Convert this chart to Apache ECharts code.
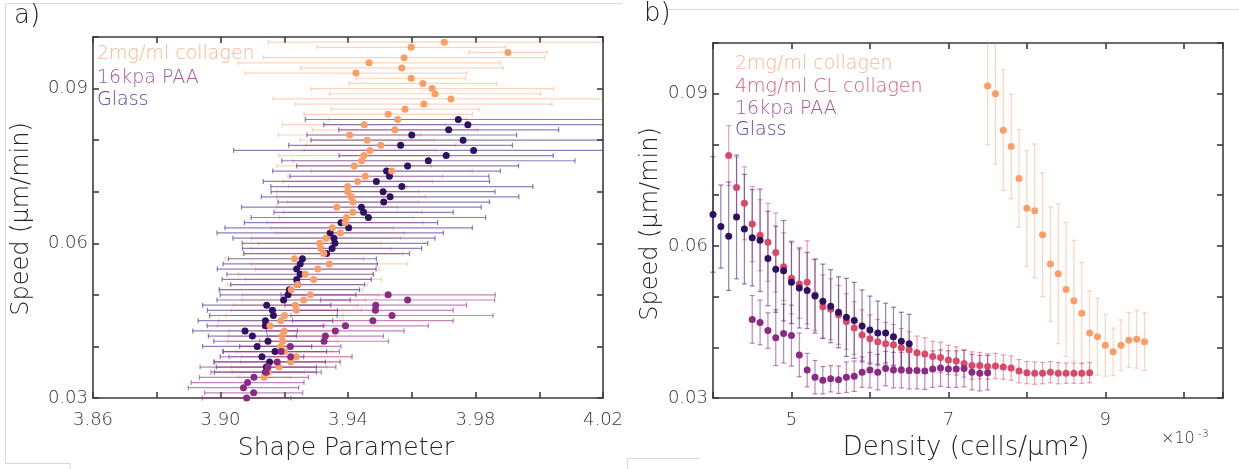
<!DOCTYPE html>
<html>
<head>
<meta charset="utf-8">
<script src="https://cdn.jsdelivr.net/npm/echarts@6/dist/echarts.min.js"></script>
<style>
  html, body { margin: 0; padding: 0; background: #ffffff; }
  #chart { width: 1239px; height: 469px; }
</style>
</head>
<body>
<div id="chart"></div>
<script>
// ---------- panel a: speed bins vs mean shape parameter (± std) ----------
const aCollagenSpeed = [
  0.099,0.098,0.097,0.096,0.095,0.094,0.093,0.092,0.091,0.090,
  0.089,0.088,0.087,0.086,0.085,0.084,0.083,0.082,0.081,0.080,
  0.079,0.078,0.077,0.076,0.075,0.074,0.073,0.072,0.071,0.070,
  0.069,0.068,0.067,0.066,0.065,0.064,0.063,0.062,0.061,0.060,
  0.059,0.058,0.057,0.056,0.055,0.054,0.053,0.052,0.051,0.050,
  0.049,0.048,0.047,0.046,0.045,0.044,0.043,0.042,0.041,0.040,
  0.039,0.038,0.037,0.036,0.035,0.034
];
const aCollagenShape = [
  3.9702,3.9598,3.9902,3.9576,3.9466,3.9569,3.9425,3.9598,3.9635,3.9664,
  3.9673,3.9723,3.9638,3.9579,3.9526,3.9556,3.9451,3.9547,3.9405,3.9460,
  3.9503,3.9469,3.9450,3.9443,3.9419,3.9537,3.9454,3.9430,3.9399,3.9399,
  3.9410,3.9416,3.9365,3.9415,3.9395,3.9391,3.9351,3.9376,3.9331,3.9311,
  3.9315,3.9324,3.9232,3.9341,3.9305,3.9266,3.9292,3.9242,3.9222,3.9282,
  3.9261,3.9235,3.9238,3.9201,3.9189,3.9155,3.9200,3.9193,3.9195,3.9189,
  3.9201,3.9238,3.9220,3.9184,3.9150,3.9137
];
const aCollagenErr = [
  0.0552,0.0296,0.0122,0.0441,0.0411,0.0317,0.0348,0.0171,0.0231,0.0381,
  0.0331,0.0558,0.0402,0.0232,0.0264,0.0216,0.0256,0.0259,0.0223,0.0210,
  0.0235,0.0207,0.0267,0.0216,0.0242,0.0253,0.0243,0.0235,0.0186,0.0223,
  0.0234,0.0206,0.0190,0.0218,0.0210,0.0245,0.0192,0.0201,0.0234,0.0193,
  0.0219,0.0248,0.0217,0.0245,0.0195,0.0210,0.0213,0.0220,0.0223,0.0213,
  0.0194,0.0195,0.0204,0.0184,0.0195,0.0165,0.0173,0.0169,0.0173,0.0129,
  0.0151,0.0172,0.0157,0.0150,0.0113,0.0082
];

const aGlassSpeed = [
  0.084,0.083,0.082,0.081,0.080,0.079,0.078,0.077,0.076,0.075,
  0.074,0.073,0.072,0.071,0.070,0.069,0.068,0.067,0.066,0.065,
  0.064,0.063,0.062,0.061,0.060,0.059,0.058,0.057,0.056,0.055,
  0.054,0.053,0.052,0.051,0.050,0.049,0.048,0.047,0.046,0.045,
  0.044,0.043,0.042,0.041,0.040,0.039,0.038,0.037,0.036,0.035
];
const aGlassShape = [
  3.9746,3.9776,3.9716,3.9600,3.9761,3.9565,3.9794,3.9708,3.9652,3.9587,
  3.9521,3.9530,3.9489,3.9569,3.9510,3.9532,3.9512,3.9442,3.9449,3.9464,
  3.9378,3.9402,3.9344,3.9356,3.9359,3.9350,3.9333,3.9257,3.9250,3.9239,
  3.9250,3.9239,3.9242,3.9216,3.9212,3.9198,3.9145,3.9163,3.9166,3.9141,
  3.9141,3.9077,3.9100,3.9149,3.9115,3.9171,3.9130,3.9154,3.9144,3.9141
];
const aGlassErr = [
  0.0480,0.0452,0.0345,0.0329,0.0477,0.0351,0.0753,0.0336,0.0460,0.0348,
  0.0357,0.0312,0.0355,0.0411,0.0351,0.0404,0.0332,0.0376,0.0281,0.0368,
  0.0303,0.0388,0.0355,0.0317,0.0291,0.0281,0.0260,0.0232,0.0242,0.0249,
  0.0230,0.0234,0.0210,0.0220,0.0213,0.0209,0.0201,0.0204,0.0200,0.0211,
  0.0183,0.0164,0.0138,0.0170,0.0171,0.0162,0.0131,0.0175,0.0157,0.0160
];

const aPaaSpeed = [
  0.050,0.049,0.048,0.047,0.046,0.045,0.044,0.043,0.042,0.041,
  0.040,0.039,0.038,0.037,0.036,0.035,0.034,0.033,0.032,0.031,0.030
];
const aPaaShape = [
  3.9526,3.9587,3.9487,3.9486,3.9538,3.9478,3.9392,3.9360,3.9329,3.9325,
  3.9219,3.9190,3.9220,3.9178,3.9149,3.9143,3.9105,3.9085,3.9072,3.9104,3.9082
];
const aPaaErr = [
  0.0336,0.0273,0.0285,0.0244,0.0317,0.0252,0.0260,0.0216,0.0182,0.0202,
  0.0159,0.0183,0.0193,0.0197,0.0213,0.0173,0.0171,0.0177,0.0173,0.0154,0.0139
];

// ---------- panel b: density bins (x10^-3 cells/um^2) vs mean speed (± std) ----------
const bCollagenDensity = [7.5,7.6,7.7,7.8,7.9,8.0,8.1,8.2,8.3,8.4,8.5,8.6,8.7,8.8,8.9,9.0,9.1,9.2,9.3,9.4,9.5];
const bCollagenSpeed = [
  0.0915,0.0900,0.0828,0.0796,0.0733,0.0674,0.0669,0.0622,0.0564,0.0545,
  0.0514,0.0492,0.0467,0.0428,0.0421,0.0404,0.0391,0.0404,0.0414,0.0416,0.0411
];
const bCollagenErr = [
  0.0116,0.0139,0.0119,0.0103,0.0096,0.0114,0.0132,0.0122,0.0113,0.0138,
  0.0132,0.0119,0.0100,0.0083,0.0076,0.0061,0.0047,0.0050,0.0054,0.0057,0.0057
];

const bClDensity = [
  4.2,4.3,4.4,4.5,4.6,4.7,4.8,4.9,5.0,5.1,
  5.2,5.3,5.4,5.5,5.6,5.7,5.8,5.9,6.0,6.1,
  6.2,6.3,6.4,6.5,6.6,6.7,6.8,6.9,7.0,7.1,
  7.2,7.3,7.4,7.5,7.6,7.7,7.8,7.9,8.0,8.1,
  8.2,8.3,8.4,8.5,8.6,8.7,8.8
];
const bClSpeed = [
  0.0778,0.0715,0.0684,0.0643,0.0621,0.0607,0.0587,0.0559,0.0536,0.0525,
  0.0528,0.0503,0.0480,0.0475,0.0464,0.0451,0.0438,0.0424,0.0417,0.0411,
  0.0407,0.0405,0.0399,0.0395,0.0389,0.0387,0.0382,0.0380,0.0375,0.0373,
  0.0368,0.0364,0.0364,0.0362,0.0363,0.0361,0.0359,0.0353,0.0350,0.0349,
  0.0349,0.0351,0.0349,0.0349,0.0349,0.0349,0.0350
];
const bClErr = [
  0.0059,0.0060,0.0072,0.0074,0.0070,0.0077,0.0078,0.0067,0.0070,0.0068,
  0.0082,0.0070,0.0063,0.0060,0.0058,0.0055,0.0052,0.0050,0.0047,0.0044,
  0.0042,0.0040,0.0038,0.0036,0.0033,0.0032,0.0030,0.0030,0.0029,0.0028,
  0.0027,0.0027,0.0026,0.0025,0.0025,0.0024,0.0024,0.0023,0.0022,0.0022,
  0.0021,0.0021,0.0021,0.0020,0.0020,0.0020,0.0020
];

const bPaaDensity = [
  4.5,4.6,4.7,4.8,4.9,5.0,5.1,5.2,5.3,5.4,
  5.5,5.6,5.7,5.8,5.9,6.0,6.1,6.2,6.3,6.4,
  6.5,6.6,6.7,6.8,6.9,7.0,7.1,7.2,7.3,7.4,7.5
];
const bPaaSpeed = [
  0.0455,0.0449,0.0433,0.0419,0.0427,0.0423,0.0385,0.0355,0.0341,0.0335,
  0.0338,0.0336,0.0341,0.0343,0.0351,0.0355,0.0351,0.0358,0.0355,0.0355,
  0.0354,0.0354,0.0353,0.0357,0.0359,0.0357,0.0357,0.0358,0.0351,0.0349,0.0350
];
const bPaaErr = [
  0.0047,0.0044,0.0035,0.0055,0.0058,0.0060,0.0043,0.0033,0.0033,0.0027,
  0.0026,0.0027,0.0030,0.0030,0.0030,0.0035,0.0035,0.0034,0.0035,0.0035,
  0.0036,0.0036,0.0036,0.0036,0.0036,0.0036,0.0036,0.0036,0.0035,0.0035,0.0034
];

const bGlassDensity = [
  4.0,4.1,4.2,4.3,4.4,4.5,4.6,4.7,4.8,4.9,
  5.0,5.1,5.2,5.3,5.4,5.5,5.6,5.7,5.8,5.9,
  6.0,6.1,6.2,6.3,6.4,6.5
];
const bGlassSpeed = [
  0.0662,0.0638,0.0619,0.0657,0.0633,0.0616,0.0611,0.0575,0.0554,0.0551,
  0.0528,0.0517,0.0512,0.0501,0.0491,0.0481,0.0469,0.0459,0.0453,0.0442,
  0.0434,0.0428,0.0428,0.0421,0.0412,0.0407
];
const bGlassErr = [
  0.0114,0.0082,0.0107,0.0122,0.0108,0.0095,0.0101,0.0093,0.0085,0.0099,
  0.0081,0.0079,0.0075,0.0073,0.0073,0.0072,0.0070,0.0077,0.0075,0.0071,
  0.0067,0.0063,0.0059,0.0058,0.0057,0.0058
];

// tick labels
const aShapeLabels = ['3.86', '3.90', '3.94', '3.98', '4.02'];
const speedLabels = ['0.03', '0.06', '0.09'];
const densityLabels = ['5', '7', '9'];

// ---------- styling ----------
const FONT = '"DejaVu Sans", "Liberation Sans", sans-serif';
const W = 200;
const AXIS_COLOR = '#3c3c3c';
const COL = {
  collagen: { pt: '#fd9d66', bar: 'rgba(253,160,110,0.45)', text: '#fdb58e' },
  cl:       { pt: '#dc4869', bar: 'rgba(226,78,116,0.55)',  text: '#e1587c' },
  paa:      { pt: '#8a2a82', bar: 'rgba(150,52,145,0.6)',   text: '#a457a1' },
  glass:    { pt: '#2e1162', bar: 'rgba(72,42,142,0.6)',    text: '#5b3c95' }
};
const CAP = 2.5;

function hErrBar(color) {
  return function (params, api) {
    const x = api.value(0), y = api.value(1), e = api.value(2);
    const cs = params.coordSys;
    const a = api.coord([x - e, y]), b = api.coord([x + e, y]);
    const lo = cs.x, hi = cs.x + cs.width;
    const style = { stroke: color, lineWidth: 1.2 };
    const kids = [{ type: 'line', shape: { x1: Math.max(a[0], lo), y1: a[1], x2: Math.min(b[0], hi), y2: b[1] }, style }];
    if (a[0] >= lo) kids.push({ type: 'line', shape: { x1: a[0], y1: a[1] - CAP, x2: a[0], y2: a[1] + CAP }, style });
    if (b[0] <= hi) kids.push({ type: 'line', shape: { x1: b[0], y1: b[1] - CAP, x2: b[0], y2: b[1] + CAP }, style });
    return { type: 'group', children: kids };
  };
}
function vErrBar(color) {
  return function (params, api) {
    const x = api.value(0), y = api.value(1), e = api.value(2);
    const cs = params.coordSys;
    const top = api.coord([x, y + e]), bot = api.coord([x, y - e]);
    const lo = cs.y, hi = cs.y + cs.height;
    const style = { stroke: color, lineWidth: 1.2 };
    const kids = [{ type: 'line', shape: { x1: top[0], y1: Math.max(top[1], lo), x2: bot[0], y2: Math.min(bot[1], hi) }, style }];
    if (top[1] >= lo) kids.push({ type: 'line', shape: { x1: top[0] - CAP, y1: top[1], x2: top[0] + CAP, y2: top[1] }, style });
    if (bot[1] <= hi) kids.push({ type: 'line', shape: { x1: bot[0] - CAP, y1: bot[1], x2: bot[0] + CAP, y2: bot[1] }, style });
    return { type: 'group', children: kids };
  };
}

function aRows(speed, shape, err) { return speed.map((s, i) => [shape[i], s, err[i]]); }
function bRows(dens, speed, err) { return dens.map((d, i) => [d, speed[i], err[i]]); }

function errSeries(rows, color, axis, horizontal, z) {
  return {
    type: 'custom', xAxisIndex: axis, yAxisIndex: axis, silent: true, z: z,
    renderItem: horizontal ? hErrBar(color) : vErrBar(color),
    encode: { x: 0, y: 1 }, data: rows
  };
}
function ptSeries(rows, color, axis, size, z) {
  return {
    type: 'scatter', xAxisIndex: axis, yAxisIndex: axis, silent: true, z: z,
    symbol: 'circle', symbolSize: size, itemStyle: { color: color, opacity: 1 },
    data: rows.map(r => [r[0], r[1]])
  };
}

const aCol = aRows(aCollagenSpeed, aCollagenShape, aCollagenErr);
const aGla = aRows(aGlassSpeed, aGlassShape, aGlassErr);
const aPaa = aRows(aPaaSpeed, aPaaShape, aPaaErr);
const bCol = bRows(bCollagenDensity, bCollagenSpeed, bCollagenErr);
const bCl  = bRows(bClDensity, bClSpeed, bClErr);
const bPaa = bRows(bPaaDensity, bPaaSpeed, bPaaErr);
const bGla = bRows(bGlassDensity, bGlassSpeed, bGlassErr);

const near = (v, list) => list.some(t => Math.abs(v - parseFloat(t)) < 1e-6);

function frameAxis(base, extra) {
  return Object.assign({
    type: 'value',
    axisLine: { show: true, onZero: false, lineStyle: { color: AXIS_COLOR, width: 1.6 } },
    axisTick: { show: true, inside: true, length: 6, lineStyle: { color: AXIS_COLOR, width: 1.6 } },
    splitLine: { show: false },
    axisLabel: { show: false }
  }, base, extra || {});
}
const tickLabel = { show: true, fontFamily: FONT, fontWeight: W, fontSize: 18, color: '#333333' };
const f = (px) => W + ' ' + px + 'px ' + FONT;

const chart = echarts.init(document.getElementById('chart'), null, { renderer: 'canvas' });
chart.setOption({
  animation: false,
  backgroundColor: '#ffffff',
  grid: [
    { left: 93, top: 37, width: 510, height: 361 },
    { left: 713, top: 43, width: 510, height: 355 }
  ],
  xAxis: [
    frameAxis({ gridIndex: 0, position: 'bottom', min: 3.86, max: 4.02, interval: 0.02 }, {
      axisLabel: Object.assign({}, tickLabel, { margin: 13, formatter: v => near(v, aShapeLabels) ? v.toFixed(2) : '' })
    }),
    frameAxis({ gridIndex: 0, position: 'top', min: 3.86, max: 4.02, interval: 0.02 }),
    frameAxis({ gridIndex: 1, position: 'bottom', min: 4, max: 10.5, interval: 1 }, {
      axisLabel: Object.assign({}, tickLabel, { margin: 13, formatter: v => near(v, densityLabels) ? String(Math.round(v)) : '' })
    }),
    frameAxis({ gridIndex: 1, position: 'top', min: 4, max: 10.5, interval: 1 })
  ],
  yAxis: [
    frameAxis({ gridIndex: 0, position: 'left', min: 0.03, max: 0.1, interval: 0.01 }, {
      axisLabel: Object.assign({}, tickLabel, { margin: 5, formatter: v => near(v, speedLabels) ? v.toFixed(2) : '' })
    }),
    frameAxis({ gridIndex: 0, position: 'right', min: 0.03, max: 0.1, interval: 0.01 }),
    frameAxis({ gridIndex: 1, position: 'left', min: 0.03, max: 0.1, interval: 0.01 }, {
      axisLabel: Object.assign({}, tickLabel, { margin: 5, formatter: v => near(v, speedLabels) ? v.toFixed(2) : '' })
    }),
    frameAxis({ gridIndex: 1, position: 'right', min: 0.03, max: 0.1, interval: 0.01 })
  ],
  series: [
    // panel a
    errSeries(aCol, COL.collagen.bar, 0, true, 2),
    errSeries(aGla, COL.glass.bar, 0, true, 2),
    errSeries(aPaa, COL.paa.bar, 0, true, 2),
    ptSeries(aGla, COL.glass.pt, 0, 7, 3),
    ptSeries(aCol, COL.collagen.pt, 0, 7, 3),
    ptSeries(aPaa, COL.paa.pt, 0, 7, 3),
    // panel b
    errSeries(bCol, COL.collagen.bar, 2, false, 2),
    errSeries(bCl, COL.cl.bar, 2, false, 2),
    errSeries(bPaa, COL.paa.bar, 2, false, 2),
    errSeries(bGla, COL.glass.bar, 2, false, 2),
    ptSeries(bCol, COL.collagen.pt, 2, 7, 3),
    ptSeries(bCl, COL.cl.pt, 2, 7, 3),
    ptSeries(bPaa, COL.paa.pt, 2, 7, 3),
    ptSeries(bGla, COL.glass.pt, 2, 7, 3)
  ],
  graphic: [
    // faint figure frame lines
    { type: 'polyline', silent: true, shape: { points: [[70, 469], [70, 463.5], [5.5, 463.5], [5.5, 3.5], [622, 3.5]] }, style: { stroke: '#d8d8d8', lineWidth: 1, fill: null } },
    { type: 'polyline', silent: true, shape: { points: [[627.5, 469], [627.5, 458.5], [700, 458.5]] }, style: { stroke: '#d8d8d8', lineWidth: 1, fill: null } },
    { type: 'line', silent: true, shape: { x1: 667, y1: 9.5, x2: 1239, y2: 9.5 }, style: { stroke: '#d8d8d8', lineWidth: 1 } },
    // panel labels
    { type: 'text', left: 14, top: 3, style: { text: 'a)', font: f(26), fill: '#222222' } },
    { type: 'text', left: 644, top: 1, style: { text: 'b)', font: f(26), fill: '#222222' } },
    // legends, panel a
    { type: 'text', x: 97, y: 54, style: { text: '2mg/ml collagen', font: f(19), fill: COL.collagen.text, verticalAlign: 'middle' } },
    { type: 'text', x: 97, y: 78, style: { text: '16kpa PAA', font: f(19), fill: COL.paa.text, verticalAlign: 'middle' } },
    { type: 'text', x: 97, y: 100, style: { text: 'Glass', font: f(19), fill: COL.glass.text, verticalAlign: 'middle' } },
    // legends, panel b
    { type: 'text', x: 735, y: 64, style: { text: '2mg/ml collagen', font: f(19), fill: COL.collagen.text, verticalAlign: 'middle' } },
    { type: 'text', x: 735, y: 87, style: { text: '4mg/ml CL collagen', font: f(19), fill: COL.cl.text, verticalAlign: 'middle' } },
    { type: 'text', x: 735, y: 109, style: { text: '16kpa PAA', font: f(19), fill: COL.paa.text, verticalAlign: 'middle' } },
    { type: 'text', x: 735, y: 130, style: { text: 'Glass', font: f(19), fill: COL.glass.text, verticalAlign: 'middle' } },
    // axis titles
    { type: 'text', x: 22, y: 219, rotation: Math.PI / 2, style: { text: 'Speed (μm/min)', font: f(24), fill: '#222222', align: 'center', verticalAlign: 'middle' } },
    { type: 'text', x: 651, y: 224, rotation: Math.PI / 2, style: { text: 'Speed (μm/min)', font: f(24), fill: '#222222', align: 'center', verticalAlign: 'middle' } },
    { type: 'text', x: 346, y: 448, style: { text: 'Shape Parameter', font: f(25), fill: '#222222', align: 'center', verticalAlign: 'middle' } },
    { type: 'text', x: 966, y: 448, style: { text: 'Density (cells/μm²)', font: f(26), fill: '#222222', align: 'center', verticalAlign: 'middle' } },
    { type: 'text', x: 1161, y: 439, style: { rich: { b: { font: f(16), fill: '#333333' }, s: { font: f(11), fill: '#333333', padding: [0, 0, 9, 3] } }, text: '{b|×10}{s|-3}', verticalAlign: 'middle' } }
  ]
});
</script>
</body>
</html>
